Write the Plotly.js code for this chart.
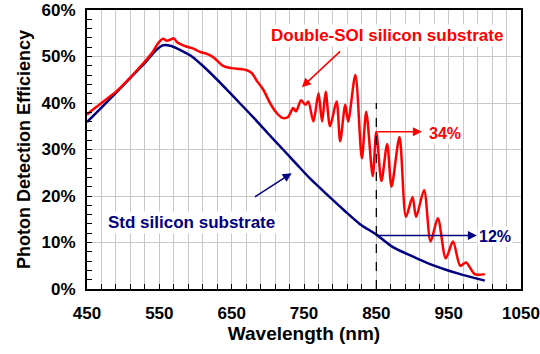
<!DOCTYPE html>
<html>
<head>
<meta charset="utf-8">
<script src="https://cdn.plot.ly/plotly-3.0.1.min.js"></script>
<style>html,body{margin:0;padding:0;background:#fff;}#chart{width:540px;height:354px;}</style>
</head>
<body>
<div id="chart"></div>
<script>
// Double-SOI silicon substrate (wavelength nm, efficiency fraction)
const soiWavelength = [450,460,470,480,490,500,510,520,530,540,548,555,560,565,570,575,580,588,597,606,615,625,638,650,662,670,678,685,694,703,712,720,728,735,739,746,752,756,763,770,775,780,786,795,800,807,811,821,830,836,845,850,857,865,871,882,891,900,905,916,925,935,946,956,966,974,986,1000];
const soiEfficiency = [0.375,0.388,0.400,0.412,0.424,0.439,0.455,0.472,0.489,0.508,0.528,0.538,0.534,0.536,0.539,0.530,0.526,0.521,0.517,0.510,0.506,0.498,0.480,0.475,0.473,0.471,0.464,0.447,0.428,0.400,0.379,0.368,0.370,0.389,0.382,0.406,0.396,0.403,0.360,0.421,0.360,0.424,0.350,0.403,0.318,0.396,0.360,0.460,0.281,0.381,0.243,0.338,0.232,0.312,0.220,0.327,0.155,0.198,0.155,0.213,0.102,0.152,0.066,0.102,0.050,0.057,0.032,0.032];
// Std silicon substrate
const stdWavelength = [450,470,490,510,530,545,555,565,575,585,595,610,630,645,661,680,700,721,740,760,784,805,827,850,873,900,920,945,966,985,1000];
const stdEfficiency = [0.359,0.390,0.422,0.454,0.486,0.513,0.524,0.523,0.517,0.509,0.500,0.480,0.450,0.426,0.400,0.369,0.335,0.300,0.268,0.235,0.200,0.170,0.140,0.117,0.090,0.070,0.056,0.042,0.032,0.024,0.018];

const markWavelength = 850;
const soiAt850 = 0.338;
const stdAt850 = 0.115;
const labels = {soi: 'Double-SOI silicon substrate', std: 'Std silicon substrate', soiPct: '34%', stdPct: '12%'};

const FONT = 'Liberation Sans, Arial, sans-serif';
const RED = '#ff0000';
const NAVY = '#000080';
const GRID = '#c8c8c8';

const traces = [
  {x: stdWavelength, y: stdEfficiency, type: 'scatter', mode: 'lines',
   line: {color: NAVY, width: 2.5, shape: 'spline', smoothing: 0.8}, hoverinfo: 'skip'},
  {x: soiWavelength, y: soiEfficiency, type: 'scatter', mode: 'lines',
   line: {color: RED, width: 2.5, shape: 'spline', smoothing: 0.8}, hoverinfo: 'skip'}
];

const layout = {
  width: 540, height: 354,
  margin: {l: 87, r: 19, t: 10, b: 65},
  paper_bgcolor: '#fff', plot_bgcolor: '#fff',
  showlegend: false,
  font: {family: FONT, color: '#000'},
  xaxis: {
    range: [450, 1050], tick0: 450, dtick: 100,
    showgrid: true, gridcolor: GRID, gridwidth: 1,
    showline: true, linecolor: '#000', linewidth: 2, mirror: true,
    ticks: 'inside', ticklen: 5, tickcolor: '#000', tickwidth: 1,
    minor: {tick0: 450, dtick: 20, showgrid: true, gridcolor: GRID, gridwidth: 1, ticks: 'inside', ticklen: 5, tickcolor: '#000'},
    tickfont: {family: FONT, size: 17, color: '#000', weight: 'bold'},
    ticklabelstandoff: 8,
    zeroline: false,
    title: {text: 'Wavelength (nm)', font: {family: FONT, size: 19, color: '#000', weight: 'bold'}, standoff: 4}
  },
  yaxis: {
    range: [0, 0.6], tick0: 0, dtick: 0.1, tickformat: '.0%',
    showgrid: true, gridcolor: GRID, gridwidth: 1,
    showline: true, linecolor: '#000', linewidth: 2, mirror: true,
    ticks: 'inside', ticklen: 5, tickcolor: '#000', tickwidth: 1,
    minor: {dtick: 0.02, showgrid: false, ticks: 'inside', ticklen: 5, tickcolor: '#000'},
    tickfont: {family: FONT, size: 17, color: '#000', weight: 'bold'},
    ticklabelstandoff: 6,
    zeroline: false,
    title: {text: 'Photon Detection Efficiency', font: {family: FONT, size: 18, color: '#000', weight: 'bold'}, standoff: 6}
  },
  shapes: [
    {type: 'line', xref: 'x', yref: 'y', x0: markWavelength, x1: markWavelength, y0: 0, y1: 0.40,
     line: {color: '#000', width: 1.3, dash: 'dash'}}
  ],
  annotations: [
    {xref: 'x', yref: 'y', x: 865, y: 0.546, text: labels.soi, showarrow: false,
     font: {family: FONT, size: 17, color: RED, weight: 'bold'}, bgcolor: '#fff'},
    {xref: 'x', yref: 'y', x: 747, y: 0.434, axref: 'x', ayref: 'y', ax: 802, ay: 0.514,
     showarrow: true, arrowhead: 2, arrowsize: 1.2, arrowwidth: 1.5, arrowcolor: RED, text: ''},
    {xref: 'x', yref: 'y', x: 594, y: 0.142, text: labels.std, showarrow: false,
     font: {family: FONT, size: 17, color: NAVY, weight: 'bold'}, bgcolor: '#fff'},
    {xref: 'x', yref: 'y', x: 733, y: 0.249, axref: 'x', ayref: 'y', ax: 680, ay: 0.196,
     showarrow: true, arrowhead: 2, arrowsize: 1.2, arrowwidth: 1.5, arrowcolor: NAVY, text: ''},
    {xref: 'x', yref: 'y', x: 913, y: soiAt850, axref: 'x', ayref: 'y', ax: markWavelength, ay: soiAt850,
     showarrow: true, arrowhead: 2, arrowsize: 1.2, arrowwidth: 1.5, arrowcolor: RED, text: ''},
    {xref: 'x', yref: 'y', x: 945, y: 0.335, text: labels.soiPct, showarrow: false,
     font: {family: FONT, size: 16, color: RED, weight: 'bold'}, bgcolor: '#fff'},
    {xref: 'x', yref: 'y', x: 989, y: stdAt850, axref: 'x', ayref: 'y', ax: markWavelength, ay: stdAt850,
     showarrow: true, arrowhead: 2, arrowsize: 1.2, arrowwidth: 1.5, arrowcolor: NAVY, text: ''},
    {xref: 'x', yref: 'y', x: 1014, y: 0.112, text: labels.stdPct, showarrow: false,
     font: {family: FONT, size: 16, color: NAVY, weight: 'bold'}, bgcolor: '#fff'}
  ]
};

Plotly.newPlot('chart', traces, layout, {staticPlot: true, displayModeBar: false});
</script>
</body>
</html>
